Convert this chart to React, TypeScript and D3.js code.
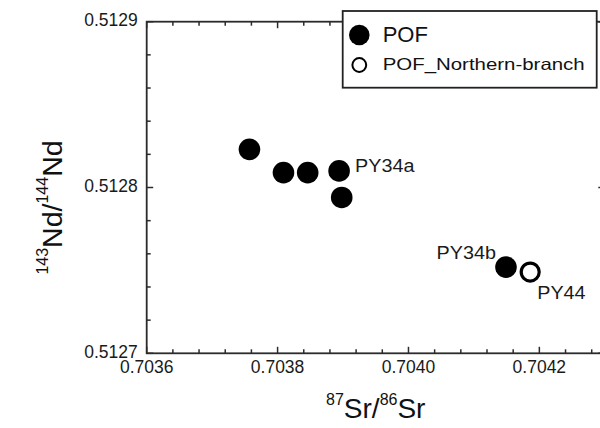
import { useRef, useEffect } from 'react';
import * as d3 from 'd3';

// sample values
const pofSr = [0.703757, 0.703809, 0.703846, 0.703894, 0.703898, 0.704149];
const pofNd = [0.512823, 0.512809, 0.512809, 0.512810, 0.512794, 0.512752];
const northSr = [0.704186];
const northNd = [0.512749];

const xTicks = [0.7036, 0.7038, 0.7040, 0.7042];
const yTicks = [0.5127, 0.5128, 0.5129];

const sampleLabels = [
  { name: 'PY34a', sr: 0.703894, nd: 0.512810, dx: 16, dy: 1.5, anchor: 'start' },
  { name: 'PY34b', sr: 0.704149, nd: 0.512752, dx: -10, dy: -8.5, anchor: 'end' },
  { name: 'PY44', sr: 0.704186, nd: 0.512749, dx: 7, dy: 27, anchor: 'start' },
];

const legendItems = ['POF', 'POF_Northern-branch'];

const FONT = '"Liberation Sans", Arial, sans-serif';
const AXIS = '#2b2b2b';

function App() {
  const svgRef = useRef(null);

  useEffect(() => {
    const svg = d3.select(svgRef.current);
    svg.selectAll('*').remove();

    const left = 146.7, top = 21.7, right = 604.8, bottom = 353.3;

    const x = d3.scaleLinear().domain([0.7036, 0.7043]).range([left, right]);
    const y = d3.scaleLinear().domain([0.5127, 0.5129]).range([bottom, top]);

    const g = svg.append('g');

    // frame
    g.append('rect')
      .attr('x', left).attr('y', top)
      .attr('width', right - left).attr('height', bottom - top)
      .attr('fill', 'none').attr('stroke', AXIS).attr('stroke-width', 1.8);

    // minor/major ticks, all pointing inward
    const xMinor = d3.range(0, 18).map(i => +(0.7036 + i * 0.00004).toFixed(5)).filter(v => v <= 0.7043);
    const yMinor = d3.range(0, 11).map(i => +(0.5127 + i * 0.00002).toFixed(5));
    const isMajorX = v => xTicks.some(t => Math.abs(t - v) < 1e-7);
    const isMajorY = v => yTicks.some(t => Math.abs(t - v) < 1e-7);

    const tk = g.append('g').attr('stroke', AXIS).attr('stroke-width', 1.5);
    xMinor.forEach(v => {
      const len = isMajorX(v) ? 6.5 : 4;
      tk.append('line').attr('x1', x(v)).attr('x2', x(v)).attr('y1', bottom).attr('y2', bottom - len);
      tk.append('line').attr('x1', x(v)).attr('x2', x(v)).attr('y1', top).attr('y2', top + len);
    });
    yMinor.forEach(v => {
      const len = isMajorY(v) ? 6.5 : 4;
      tk.append('line').attr('y1', y(v)).attr('y2', y(v)).attr('x1', left).attr('x2', left + len);
      tk.append('line').attr('y1', y(v)).attr('y2', y(v)).attr('x1', right).attr('x2', right - len);
    });

    // tick labels
    const fmt = d3.format('.4f');
    g.append('g').selectAll('text').data(xTicks).enter().append('text')
      .attr('x', d => x(d)).attr('y', bottom + 19.5)
      .attr('text-anchor', 'middle')
      .style('font-family', FONT).style('font-size', '17.5px').attr('fill', '#1a1a1a')
      .text(fmt);

    g.append('g').selectAll('text').data(yTicks).enter().append('text')
      .attr('x', left - 9).attr('y', d => y(d) + 4.5)
      .attr('text-anchor', 'end')
      .style('font-family', FONT).style('font-size', '17.5px').attr('fill', '#1a1a1a')
      .text(fmt);

    // axis titles
    const xt = g.append('text')
      .attr('x', (left + right) / 2).attr('y', 418)
      .attr('text-anchor', 'middle')
      .style('font-family', FONT).style('font-size', '28px').attr('fill', '#111');
    xt.append('tspan').attr('dy', -13).style('font-size', '16px').text('87');
    xt.append('tspan').attr('dy', 13).text('Sr/');
    xt.append('tspan').attr('dy', -13).style('font-size', '16px').text('86');
    xt.append('tspan').attr('dy', 13).text('Sr');

    const yt = g.append('text')
      .attr('transform', 'rotate(-90)')
      .attr('x', -207.5).attr('y', 61.5)
      .attr('text-anchor', 'middle')
      .style('font-family', FONT).style('font-size', '28.5px').attr('fill', '#111');
    yt.append('tspan').attr('dy', -14).style('font-size', '16px').text('143');
    yt.append('tspan').attr('dy', 14).text('Nd/');
    yt.append('tspan').attr('dy', -14).style('font-size', '16px').text('144');
    yt.append('tspan').attr('dy', 14).text('Nd');

    // data points
    const pof = pofSr.map((s, i) => ({ sr: s, nd: pofNd[i] }));
    const north = northSr.map((s, i) => ({ sr: s, nd: northNd[i] }));

    g.append('g').selectAll('circle').data(pof).enter().append('circle')
      .attr('cx', d => x(d.sr)).attr('cy', d => y(d.nd))
      .attr('r', 10.8).attr('fill', '#000');

    g.append('g').selectAll('circle').data(north).enter().append('circle')
      .attr('cx', d => x(d.sr)).attr('cy', d => y(d.nd))
      .attr('r', 9).attr('fill', '#fff').attr('stroke', '#000').attr('stroke-width', 3.2);

    // sample labels (glyphs in the source are a bit wider than Arial)
    g.append('g').selectAll('text').data(sampleLabels).enter().append('text')
      .attr('x', d => x(d.sr) + d.dx).attr('y', d => y(d.nd) + d.dy)
      .attr('text-anchor', d => d.anchor)
      .style('font-family', FONT).style('font-size', '17.5px').attr('fill', '#1a1a1a')
      .text(d => d.name)
      .each(function () {
        const w = this.getComputedTextLength();
        d3.select(this).attr('textLength', w * 1.13).attr('lengthAdjust', 'spacingAndGlyphs');
      });

    // legend
    const lg = g.append('g');
    lg.append('rect')
      .attr('x', 342.7).attr('y', 11).attr('width', 254).attr('height', 76.7)
      .attr('fill', '#fff').attr('stroke', '#222').attr('stroke-width', 1.8);
    lg.append('circle').attr('cx', 359.3).attr('cy', 35).attr('r', 10.3).attr('fill', '#000');
    lg.append('circle').attr('cx', 359.3).attr('cy', 65).attr('r', 6.9)
      .attr('fill', '#fff').attr('stroke', '#000').attr('stroke-width', 2);
    lg.append('text').attr('x', 382.7).attr('y', 41.7)
      .style('font-family', FONT).style('font-size', '22px').attr('fill', '#111')
      .text(legendItems[0]);
    lg.append('text').attr('x', 382.7).attr('y', 70)
      .attr('textLength', 202).attr('lengthAdjust', 'spacingAndGlyphs')
      .style('font-family', FONT).style('font-size', '16.5px').attr('fill', '#111')
      .text(legendItems[1]);
  }, []);

  return (
    <div style={{ position: 'absolute', left: 0, top: 0, width: 600, height: 428, background: '#fff' }}>
      <svg ref={svgRef} width={600} height={428} style={{ display: 'block' }}></svg>
    </div>
  );
}

export default App;
